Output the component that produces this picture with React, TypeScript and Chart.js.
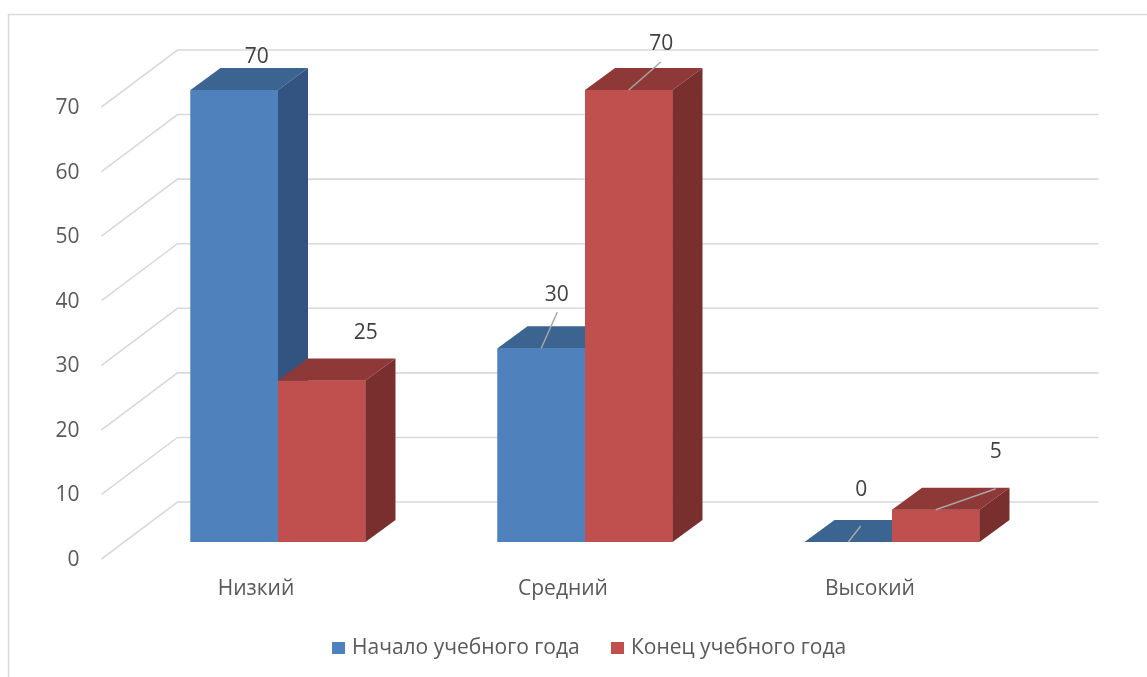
import React, { useEffect, useRef } from "react";
import { Chart, registerables } from "chart.js";

Chart.register(...registerables);

const categories = ["Низкий", "Средний", "Высокий"];
const seriesNames = ["Начало учебного года", "Конец учебного года"];
const startValues = [70, 30, 0];
const endValues = [25, 70, 5];
const yTicks = [0, 10, 20, 30, 40, 50, 60, 70];

// style constants
const FONT = "'Open Sans', 'Noto Sans', sans-serif";
const FONT_SIZE = 21;
const TEXT = "#595959";
const GRID = "#d9d9d9";
const FRONT = ["#4f81bd", "#c0504d"];
const TOP = ["#3c6491", "#8e3937"];
const SIDE = ["#335381", "#7a2f2f"];
const DEPTH = { dx: 30, dy: -22 };
const FLOOR = { dx: -23, dy: 17 };
const WALL = { dx: 53, dy: -40 };
// label placement per dataset/point: [labelDx, labelDy, leaderEndDx, leaderEndDy] (null = no leader)
const LABEL_POS: Array<Array<[number, number, number | null, number | null]>> = [
  [[22.5, -33, null, null], [15.5, -53, 16, -36], [13, -52, 12.5, -16]],
  [[44, -48, null, null], [32.5, -46, 32, -28], [60, -58, 60, -21]],
];

const plugin3d = {
  id: "bars3d",
  beforeDatasetsDraw(chart: any) {
    const { ctx, chartArea } = chart;
    const y = chart.scales.y;
    const x = chart.scales.x;
    ctx.save();
    // outer border
    ctx.strokeStyle = GRID;
    ctx.lineWidth = 1.5;
    ctx.strokeRect(8.5, 14.5, 1200, 800);
    // wall grid + floor diagonals
    ctx.lineWidth = 1.6;
    ctx.strokeStyle = GRID;
    yTicks.forEach((t) => {
      const py = y.getPixelForValue(t);
      ctx.beginPath();
      ctx.moveTo(chartArea.left + FLOOR.dx, py + FLOOR.dy);
      ctx.lineTo(chartArea.left + WALL.dx, py + WALL.dy);
      ctx.lineTo(chartArea.right + WALL.dx, py + WALL.dy);
      ctx.stroke();
    });
    // tick labels
    ctx.fillStyle = TEXT;
    ctx.font = `${FONT_SIZE}px ${FONT}`;
    ctx.textAlign = "right";
    ctx.textBaseline = "middle";
    yTicks.forEach((t) => {
      const py = y.getPixelForValue(t);
      ctx.fillText(String(t), chartArea.left + FLOOR.dx - 22, py + FLOOR.dy + 1);
    });
    // category labels
    ctx.textAlign = "center";
    categories.forEach((c, i) => {
      const px = x.getPixelForValue(i);
      ctx.fillText(c, px + FLOOR.dx + 1, chartArea.bottom + 47);
    });
    ctx.restore();
  },
  afterDatasetsDraw(chart: any) {
    const { ctx } = chart;
    ctx.save();
    const n = categories.length;
    for (let i = 0; i < n; i++) {
      for (let d = 0; d < chart.data.datasets.length; d++) {
        const el = chart.getDatasetMeta(d).data[i];
        const p = el.getProps(["x", "y", "base", "width"], true);
        const l = p.x - p.width / 2;
        const r = p.x + p.width / 2;
        const t = p.y;
        const b = p.base;
        // front
        ctx.fillStyle = FRONT[d];
        ctx.fillRect(l, t, r - l, b - t);
        // top
        ctx.fillStyle = TOP[d];
        ctx.beginPath();
        ctx.moveTo(l, t);
        ctx.lineTo(r, t);
        ctx.lineTo(r + DEPTH.dx, t + DEPTH.dy);
        ctx.lineTo(l + DEPTH.dx, t + DEPTH.dy);
        ctx.closePath();
        ctx.fill();
        // side
        ctx.fillStyle = SIDE[d];
        ctx.beginPath();
        ctx.moveTo(r, t);
        ctx.lineTo(r + DEPTH.dx, t + DEPTH.dy);
        ctx.lineTo(r + DEPTH.dx, b + DEPTH.dy);
        ctx.lineTo(r, b);
        ctx.closePath();
        ctx.fill();
      }
    }
    // data labels
    ctx.font = `${FONT_SIZE}px ${FONT}`;
    ctx.textAlign = "center";
    ctx.textBaseline = "middle";
    for (let d = 0; d < chart.data.datasets.length; d++) {
      const ds = chart.data.datasets[d];
      chart.getDatasetMeta(d).data.forEach((el: any, i: number) => {
        const p = el.getProps(["x", "y"], true);
        const [ldx, ldy, ex, ey] = LABEL_POS[d][i];
        if (ex !== null && ey !== null) {
          ctx.strokeStyle = "#a6a6a6";
          ctx.lineWidth = 1.5;
          ctx.beginPath();
          ctx.moveTo(p.x, p.y);
          ctx.lineTo(p.x + ex, p.y + ey);
          ctx.stroke();
        }
        ctx.fillStyle = "#404040";
        ctx.fillText(String(ds.data[i]), p.x + ldx, p.y + ldy);
      });
    }
    // legend
    ctx.textAlign = "left";
    const legendY = 648;
    const items = [
      { x: 332, tx: 352 },
      { x: 611, tx: 631 },
    ];
    chart.data.datasets.forEach((ds: any, d: number) => {
      ctx.fillStyle = FRONT[d];
      ctx.fillRect(items[d].x, legendY - 6, 13, 12);
      ctx.fillStyle = TEXT;
      ctx.fillText(ds.label, items[d].tx, legendY);
    });
    ctx.restore();
  },
};

export default function App() {
  const canvasRef = useRef<HTMLCanvasElement>(null);
  useEffect(() => {
    document.body.style.margin = "0";
    const chart = new Chart(canvasRef.current!, {
      type: "bar",
      data: {
        labels: categories,
        datasets: [
          { label: seriesNames[0], data: startValues, backgroundColor: FRONT[0] },
          { label: seriesNames[1], data: endValues, backgroundColor: FRONT[1] },
        ],
      },
      options: {
        responsive: false,
        animation: false,
        devicePixelRatio: 1,
        layout: { padding: { left: 124.5, right: 101.5, top: 90, bottom: 135 } },
        datasets: { bar: { categoryPercentage: 0.57, barPercentage: 1 } },
        scales: {
          x: { display: false },
          y: { display: false, min: 0, max: 70 },
        },
        plugins: { legend: { display: false }, tooltip: { enabled: false } },
      },
      plugins: [plugin3d],
    });
    return () => chart.destroy();
  }, []);
  return (
    <div style={{ width: 1147, height: 677, background: "#fff" }}>
      <canvas ref={canvasRef} width={1147} height={677} style={{ display: "block" }} />
    </div>
  );
}
